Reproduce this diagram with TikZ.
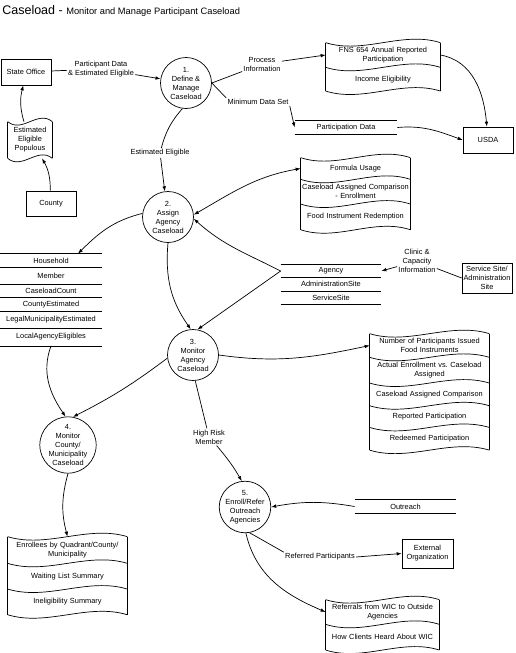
\documentclass[tikz,border=0pt]{standalone}
\usepackage{fontspec}
\setmainfont{Liberation Sans}
\usetikzlibrary{positioning,arrows.meta}

\tikzset{
  proc/.style={draw, circle, minimum size=51, inner sep=0pt, align=center},
  ent/.style={draw, minimum width=50, minimum height=26, inner sep=1pt, align=center},
  lbl/.style={align=center, inner sep=1pt},
  strow/.style={text width=#1, align=center, inner sep=0pt},
}
% wavy edge of a store row: node, side, width
\newcommand{\wavy}[3]{\draw (#1.#2 west) .. controls +(#3/3,-12) and +(-#3/3,12) .. (#1.#2 east);}
\newcommand{\sides}[2]{\draw (#1.north west) -- (#2.south west) (#1.north east) -- (#2.south east);}
\newcommand{\strline}[2]{\draw (#1.#2 west) -- (#1.#2 east);}

\begin{document}
\begin{tikzpicture}[x=1pt, y=1pt, line width=0.7pt, >={Latex[length=5pt,width=3.6pt]}, font=\fontsize{7.4}{9}\selectfont]
\useasboundingbox (0,0) rectangle (515,-653);

% title
\node[anchor=base west, inner sep=0pt] (title) at (2,-14) {{\fontsize{12.5}{14}\selectfont Caseload - }{\fontsize{9.3}{11}\selectfont Monitor and Manage Participant Caseload}};

% external entities
\node[ent] (state) at (26,-72) {State Office};
\node[ent, minimum height=25] (county) at (51,-203.5) {County};
\node[ent] (usda) at (488,-140) {USDA};
\node[ent, minimum height=30] (site) at (487,-278) {Service Site/\\Administration\\Site};
\node[ent, minimum width=51, minimum height=29] (ext) at (427.5,-553.5) {External\\Organization};

% processes
\node[proc] (p1) at (186,-83) {1.\\Define \&\\Manage\\Caseload};
\node[proc] (p2) at (168,-217) {2.\\Assign\\Agency\\Caseload};
\node[proc] (p3) at (193,-355) {3.\\Monitor\\Agency\\Caseload};
\node[proc] (p4) at (68,-445) {4.\\Monitor\\County/\\Municipality\\Caseload};
\node[proc] (p5) at (245,-507) {5.\\Enroll/Refer\\Outreach\\Agencies};

% flow labels
\node[lbl] (pd) at (101,-69) {Participant Data\\\& Estimated Eligible};
\node[lbl] (ee) at (160,-153) {Estimated Eligible};
\node[lbl] (pi) at (262,-64) {Process\\Information};
\node[lbl] (mds) at (258,-102) {Minimum Data Set};
\node[lbl] (cci) at (417,-261) {Clinic \&\\Capacity\\Information};
\node[lbl] (hrm) at (209,-437) {High Risk\\Member};
\node[lbl] (rp) at (320,-557) {Referred Participants};

% Estimated Eligible Populous
\node[strow=44, minimum height=36] (eep) at (30,-140) {Estimated\\Eligible\\Populous};
\wavy{eep}{north}{44} \wavy{eep}{south}{44}
\sides{eep}{eep}

% FNS 654 store
\node[strow=114, minimum height=24] (fnsa) at (383,-55) {FNS 654 Annual Reported\\Participation};
\node[strow=114, minimum height=23, below=0pt of fnsa] (fnsb) {Income Eligibility};
\wavy{fnsa}{north}{114} \wavy{fnsb}{north}{114} \wavy{fnsb}{south}{114}
\sides{fnsa}{fnsb}

% Participation Data store
\node[strow=102, minimum height=13] (pdata) at (346,-127.5) {Participation Data};
\strline{pdata}{north} \strline{pdata}{south}

% Formula Usage store
\node[strow=109, minimum height=21] (fua) at (355.5,-168.5) {Formula Usage};
\node[strow=109, minimum height=24, below=0pt of fua] (fub) {Caseload Assigned Comparison\\- Enrollment};
\node[strow=109, minimum height=25, below=0pt of fub] (fuc) {Food Instrument Redemption};
\wavy{fua}{north}{109} \wavy{fub}{north}{109} \wavy{fuc}{north}{109} \wavy{fuc}{south}{109}
\sides{fua}{fuc}

% Agency store
\node[strow=100, minimum height=12] (aga) at (331,-271) {Agency};
\node[strow=100, minimum height=13, below=0pt of aga] (agb) {AdministrationSite};
\node[strow=100, minimum height=13, below=0pt of agb] (agc) {ServiceSite};
\strline{aga}{north} \strline{agb}{north} \strline{agc}{north} \strline{agc}{south}

% Household store
\node[strow=102, minimum height=13] (hha) at (51,-260.5) {Household};
\node[strow=102, minimum height=16, below=0pt of hha] (hhb) {Member};
\node[strow=102, minimum height=13, below=0pt of hhb] (hhc) {CaseloadCount};
\node[strow=102, minimum height=13, below=0pt of hhc] (hhd) {CountyEstimated};
\node[strow=102, minimum height=16, below=0pt of hhd] (hhe) {LegalMunicipalityEstimated};
\node[strow=102, minimum height=17, below=0pt of hhe] (hhf) {LocalAgencyEligibles};
\strline{hha}{north} \strline{hhb}{north} \strline{hhc}{north} \strline{hhd}{north}
\strline{hhe}{north} \strline{hhf}{north} \strline{hhf}{south}

% Number of Participants store
\node[strow=119, minimum height=23] (npsa) at (429.5,-345.5) {Number of Participants Issued\\Food Instruments};
\node[strow=119, minimum height=25, below=0pt of npsa] (npsb) {Actual Enrollment vs.\ Caseload\\Assigned};
\node[strow=119, minimum height=22, below=0pt of npsb] (npsc) {Caseload Assigned Comparison};
\node[strow=119, minimum height=21, below=0pt of npsc] (npsd) {Reported Participation};
\node[strow=119, minimum height=22, below=0pt of npsd] (npse) {Redeemed Participation};
\wavy{npsa}{north}{119} \wavy{npsb}{north}{119} \wavy{npsc}{north}{119}
\wavy{npsd}{north}{119} \wavy{npse}{north}{119} \wavy{npse}{south}{119}
\sides{npsa}{npse}

% Enrollees store
\node[strow=119, minimum height=26] (ena) at (67.5,-550) {Enrollees by Quadrant/County/\\Municipality};
\node[strow=119, minimum height=25, below=0pt of ena] (enb) {Waiting List Summary};
\node[strow=119, minimum height=25, below=0pt of enb] (enc) {Ineligibility Summary};
\wavy{ena}{north}{119} \wavy{enb}{north}{119} \wavy{enc}{north}{119} \wavy{enc}{south}{119}
\sides{ena}{enc}

% Outreach store
\node[strow=101, minimum height=13] (outr) at (405.5,-506.5) {Outreach};
\strline{outr}{north} \strline{outr}{south}

% Referrals store
\node[strow=113, minimum height=24] (rwa) at (382.5,-612) {Referrals from WIC to Outside\\Agencies};
\node[strow=113, minimum height=25, below=0pt of rwa] (rwb) {How Clients Heard About WIC};
\wavy{rwa}{north}{113} \wavy{rwb}{north}{113} \wavy{rwb}{south}{113}
\sides{rwa}{rwb}

% flows
\draw (state) -- (pd);
\draw[->] (pd) -- (p1);
\draw[->] (eep) to[bend left=15] (state);
\draw[->] (county) to[bend right=15] (eep);
\draw (p1.262) to[out=229,in=75] (ee);
\draw[->] (ee) -- (p2);
\draw (p1.east) -- (pi);
\draw[->] (pi) -- (fnsa.west);
\draw (p1.east) -- (mds.north west);
\draw[->] (mds.south east) -- (pdata.west);
\draw[->] (fnsa.east) to[out=-10,in=95] (usda);
\draw[->] (pdata.east) to[out=5,in=160] (usda.west);
\draw[<->] (p2.5) to[out=30,in=190] (fua.west);
\draw[->] (aga.west) to[out=153,in=-42] (p2.-4);
\draw[->] (aga.west) -- (p3.80);
\draw[->] (p2.south) to[out=265,in=125] (p3.95);
\draw[->] (p2.172) to[out=194,in=45] ([xshift=27pt]hha.north);
\draw (site.west) -- (cci);
\draw[->] (cci) -- (aga.east);
\draw[->] (hhf.south) to[out=250,in=124] (p4.95);
\draw[->] (p3.187) to[bend left=5] (p4.80);
\draw[->] (p3.east) to[out=-8,in=192] (npsa.west);
\draw (p3.-85) -- (hrm);
\draw[->] (hrm) to[bend left=5] (p5.97);
\draw[->] (p4.south) to[bend right=15] (ena.north);
\draw[->] (outr.west) to[bend right=10] (p5.east);
\draw (p5.-80) -- (rp.north west);
\draw[->] (rp.east) -- (ext.west);
\draw[->] (p5.-88) to[out=-77,in=157] (rwa.west);
\end{tikzpicture}
\end{document}
